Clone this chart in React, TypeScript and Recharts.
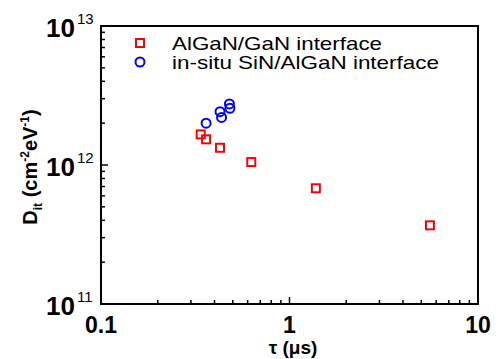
import React from 'react';
import { ScatterChart, Scatter, XAxis, YAxis, ReferenceArea } from 'recharts';

// ---- data ----
const interfaceNames = ['AlGaN/GaN interface', 'in-situ SiN/AlGaN interface'];
const seriesColors = ['#ff0000', '#0000ff'];

const algaTau = [0.338, 0.361, 0.428, 0.627, 1.38, 5.56];
const algaDit = [1.66e12, 1.53e12, 1.33e12, 1.05e12, 6.8e11, 3.68e11];

const sinTau = [0.361, 0.428, 0.436, 0.48, 0.483];
const sinDit = [2.0e12, 2.42e12, 2.2e12, 2.75e12, 2.56e12];

const xMajorTicks = [0.1, 1, 10];
const xMinorTicks = [0.2, 0.3, 0.4, 0.5, 0.6, 0.7, 0.8, 0.9, 2, 3, 4, 5, 6, 7, 8, 9];
const xTickLabels = ['0.1', '1', '10'];

const yMajorTicks = [1e11, 1e12, 1e13];
const yMinorTicks = [2e11, 3e11, 4e11, 5e11, 6e11, 7e11, 8e11, 9e11, 2e12, 3e12, 4e12, 5e12, 6e12, 7e12, 8e12, 9e12];
const yTickExponents = ['11', '12', '13'];

const algaData = algaTau.map((t, i) => ({ tau: t, dit: algaDit[i] }));
const sinData = sinTau.map((t, i) => ({ tau: t, dit: sinDit[i] }));

// ---- layout ----
const W = 499;
const H = 359;
const PLOT_LEFT = 101;
const PLOT_TOP = 26;
const PLOT_RIGHT = 478;
const PLOT_BOTTOM = 304;

const FONT = '"Liberation Sans", Arial, sans-serif';
const TICK_OFFSET = 8; // recharts default tickSize (6) + tickMargin (2)

const majorIndex = (v: number, majors: number[]) => majors.findIndex((m) => Math.abs(v / m - 1) < 1e-6);

const XTick = (props: any) => {
  const { x, y, payload } = props;
  const ay = y - TICK_OFFSET;
  const idx = majorIndex(payload.value, xMajorTicks);
  const major = idx >= 0;
  const len = major ? 7 : 4;
  const isLast = idx === xMajorTicks.length - 1;
  return (
    <g>
      <path d={`M${x},${ay}L${x},${ay - len}`} stroke="#000" strokeWidth={1.5} />
      {isLast && <path d={`M${x},${ay}L${x},${PLOT_TOP}`} stroke="#000" strokeWidth={2} />}
      {major && (
        <text x={x} y={ay + 29} textAnchor="middle" fontFamily={FONT} fontWeight="bold" fontSize={23} fill="#000">
          {xTickLabels[idx]}
        </text>
      )}
    </g>
  );
};

const YTick = (props: any) => {
  const { x, y, payload } = props;
  const ax = x + TICK_OFFSET;
  const idx = majorIndex(payload.value, yMajorTicks);
  const major = idx >= 0;
  const len = major ? 7 : 4;
  const isTop = idx === yMajorTicks.length - 1;
  return (
    <g>
      <path d={`M${ax},${y}L${ax + len},${y}`} stroke="#000" strokeWidth={1.5} />
      {isTop && <path d={`M${ax - 1},${y}L${PLOT_RIGHT + 1},${y}`} stroke="#000" strokeWidth={2} />}
      {major && (
        <g>
          <text x={ax - 26} y={y + 11} textAnchor="end" fontFamily={FONT} fontWeight="bold" fontSize={26} fill="#000">
            10
          </text>
          <text x={ax - 24} y={y - 2} textAnchor="start" fontFamily={FONT} fontSize={15} fill="#000">
            {yTickExponents[idx]}
          </text>
        </g>
      )}
    </g>
  );
};

const SquareShape = (props: any) => {
  const { cx, cy } = props;
  return <rect x={cx - 4} y={cy - 4} width={8} height={8} fill="none" stroke={seriesColors[0]} strokeWidth={2} />;
};

const CircleShape = (props: any) => {
  const { cx, cy } = props;
  return <circle cx={cx} cy={cy} r={4.5} fill="none" stroke={seriesColors[1]} strokeWidth={2} />;
};

const LegendBlock = () => {
  const rows = [
    { y: 43, textY: 50, len: 210 },
    { y: 62, textY: 69, len: 267 },
  ];
  return (
    <g>
      {interfaceNames.map((name, i) => (
        <g key={name}>
          {i === 0 ? (
            <rect x={136} y={rows[i].y - 4} width={8} height={8} fill="none" stroke={seriesColors[0]} strokeWidth={2} />
          ) : (
            <circle cx={140} cy={rows[i].y} r={4.5} fill="none" stroke={seriesColors[1]} strokeWidth={2} />
          )}
          <text
            x={172}
            y={rows[i].textY}
            fontFamily={FONT}
            fontSize={19}
            fill="#000"
            textLength={rows[i].len}
            lengthAdjust="spacingAndGlyphs"
          >
            {name}
          </text>
        </g>
      ))}
    </g>
  );
};

const YTitle = () => {
  const cy = 167;
  return (
    <g>
      <text transform="rotate(-90)" x={-cy} y={37} textAnchor="middle" fontFamily={FONT} fontWeight="bold" fontSize={20} fill="#000">
        D
        <tspan dy={5} fontSize={12}>it</tspan>
        <tspan dy={-5}> (cm</tspan>
        <tspan dy={-8} fontSize={12}>-2</tspan>
        <tspan dy={8}>eV</tspan>
        <tspan dy={-8} fontSize={12}>-1</tspan>
        <tspan dy={8}>)</tspan>
      </text>
      <LegendBlock />
    </g>
  );
};

const XTitle = () => (
  <text x={293} y={354} textAnchor="middle" fontFamily={FONT} fontWeight="bold" fontSize={19} fill="#000">
    τ (μs)
  </text>
);

export default function App() {
  return (
    <div style={{ position: 'absolute', left: 0, top: 0 }}>
      <ScatterChart
        width={W}
        height={H}
        margin={{ top: PLOT_TOP, right: W - PLOT_RIGHT, bottom: 0, left: 0 }}
      >
        <XAxis
          dataKey="tau"
          type="number"
          scale="log"
          domain={[0.1, 10]}
          ticks={[...xMajorTicks, ...xMinorTicks]}
          interval={0}
          height={H - PLOT_BOTTOM}
          tickLine={false}
          stroke="#000"
          strokeWidth={2}
          tick={<XTick />}
          label={{ content: <XTitle /> }}
        />
        <YAxis
          dataKey="dit"
          type="number"
          scale="log"
          domain={[1e11, 1e13]}
          ticks={[...yMajorTicks, ...yMinorTicks]}
          interval={0}
          width={PLOT_LEFT}
          tickLine={false}
          stroke="#000"
          strokeWidth={2}
          tick={<YTick />}
          label={{ content: <YTitle /> }}
        />
        <ReferenceArea
          x1={xMajorTicks[0]}
          x2={xMajorTicks[2]}
          y1={yMajorTicks[0]}
          y2={yMajorTicks[2]}
          fill="none"
          stroke="#000"
          strokeWidth={2}
        />
        <Scatter name={interfaceNames[0]} data={algaData} shape={<SquareShape />} isAnimationActive={false} />
        <Scatter name={interfaceNames[1]} data={sinData} shape={<CircleShape />} isAnimationActive={false} />
      </ScatterChart>
    </div>
  );
}
